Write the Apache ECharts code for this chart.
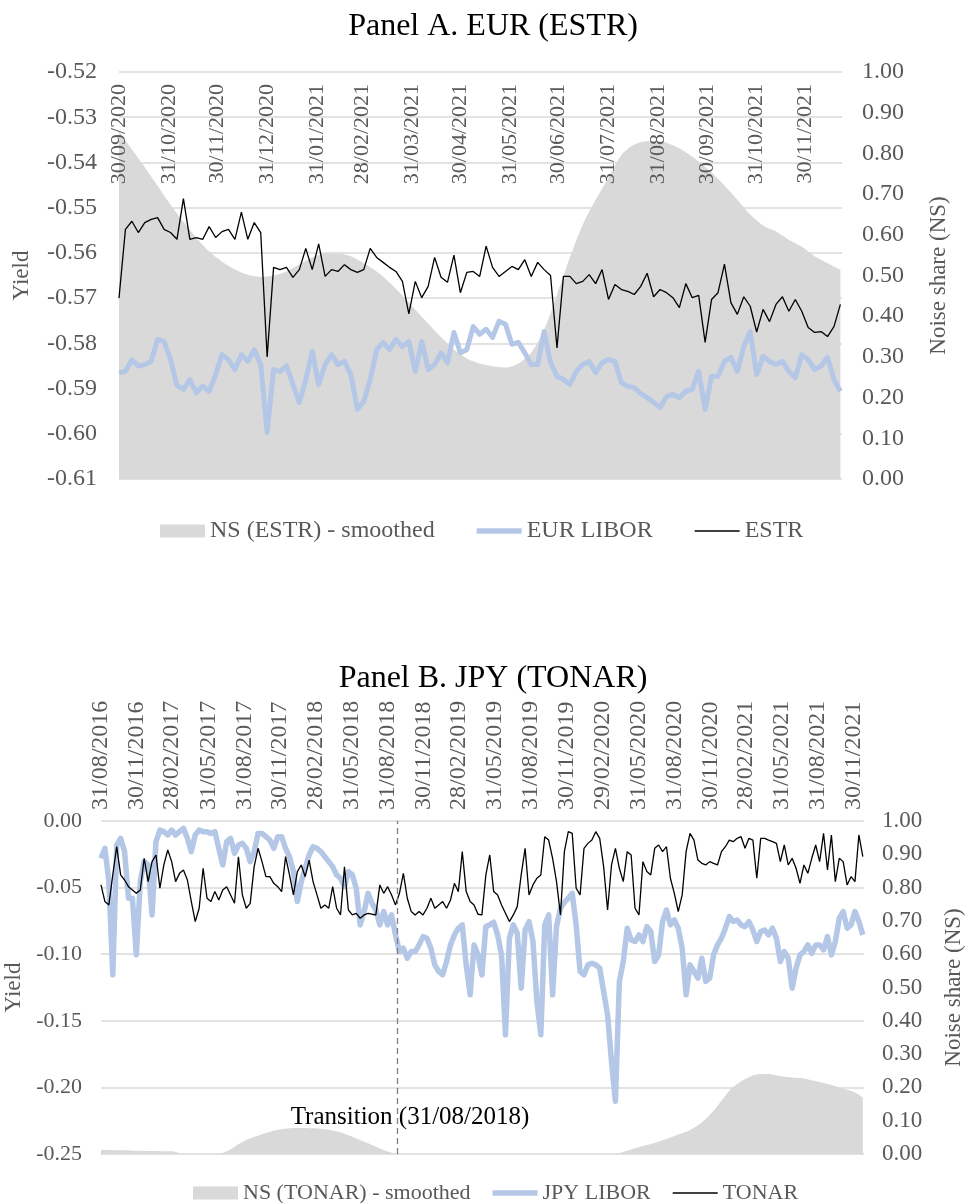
<!DOCTYPE html>
<html><head><meta charset="utf-8">
<script src="https://cdn.jsdelivr.net/npm/echarts@6/dist/echarts.min.js"></script>
<style>html,body{margin:0;padding:0;background:#fff}#c{width:969px;height:1203px}</style>
</head><body><div id="c"></div>
<script>
// ---------- Panel A (EUR / ESTR) ----------
const startA = '2020-09-30';   // lines sampled every 4 days, NS every 8 days
const endA = '2021-12-23';
const ticksA = ['2020-09-30','2020-10-31','2020-11-30','2020-12-31','2021-01-31','2021-02-28','2021-03-31','2021-04-30','2021-05-31','2021-06-30','2021-07-31','2021-08-31','2021-09-30','2021-10-31','2021-11-30'];
const estrA = [
-0.5700,-0.5548,-0.5530,-0.5555,-0.5533,-0.5526,-0.5522,-0.5548,-0.5555,-0.5570,
-0.5480,-0.5570,-0.5566,-0.5570,-0.5542,-0.5566,-0.5553,-0.5548,-0.5570,-0.5510,
-0.5570,-0.5533,-0.5555,-0.5830,-0.5632,-0.5637,-0.5632,-0.5654,-0.5637,-0.5590,
-0.5637,-0.5580,-0.5652,-0.5637,-0.5641,-0.5626,-0.5637,-0.5643,-0.5637,-0.5590,
-0.5610,-0.5621,-0.5632,-0.5641,-0.5663,-0.5735,-0.5663,-0.5699,-0.5674,-0.5610,
-0.5654,-0.5665,-0.5605,-0.5688,-0.5643,-0.5641,-0.5652,-0.5585,-0.5632,-0.5652,
-0.5641,-0.5630,-0.5637,-0.5615,-0.5652,-0.5621,-0.5637,-0.5650,-0.5810,-0.5652,
-0.5652,-0.5668,-0.5663,-0.5648,-0.5668,-0.5637,-0.5703,-0.5670,-0.5681,-0.5685,
-0.5692,-0.5674,-0.5645,-0.5697,-0.5681,-0.5688,-0.5699,-0.5721,-0.5668,-0.5699,
-0.5694,-0.5798,-0.5703,-0.5688,-0.5625,-0.5710,-0.5736,-0.5697,-0.5718,-0.5775,
-0.5725,-0.5752,-0.5714,-0.5697,-0.5729,-0.5703,-0.5729,-0.5765,-0.5776,-0.5774,
-0.5785,-0.5763,-0.5714];
const liborA = [
-0.5865,-0.5862,-0.5836,-0.5850,-0.5847,-0.5840,-0.5791,-0.5796,-0.5836,-0.5893,
-0.5902,-0.5880,-0.5909,-0.5895,-0.5906,-0.5869,-0.5825,-0.5836,-0.5858,-0.5825,
-0.5840,-0.5814,-0.5847,-0.5997,-0.5858,-0.5862,-0.5850,-0.5891,-0.5931,-0.5880,
-0.5818,-0.5891,-0.5847,-0.5825,-0.5847,-0.5840,-0.5869,-0.5946,-0.5929,-0.5880,
-0.5814,-0.5798,-0.5814,-0.5791,-0.5807,-0.5796,-0.5862,-0.5796,-0.5858,-0.5847,
-0.5821,-0.5843,-0.5776,-0.5821,-0.5814,-0.5763,-0.5780,-0.5769,-0.5787,-0.5751,
-0.5758,-0.5802,-0.5798,-0.5821,-0.5847,-0.5847,-0.5774,-0.5843,-0.5873,-0.5880,
-0.5891,-0.5862,-0.5847,-0.5840,-0.5865,-0.5843,-0.5836,-0.5840,-0.5887,-0.5895,
-0.5898,-0.5911,-0.5920,-0.5931,-0.5942,-0.5918,-0.5913,-0.5920,-0.5906,-0.5902,
-0.5862,-0.5946,-0.5873,-0.5873,-0.5840,-0.5831,-0.5862,-0.5807,-0.5774,-0.5869,
-0.5829,-0.5840,-0.5847,-0.5840,-0.5862,-0.5876,-0.5825,-0.5836,-0.5858,-0.5850,
-0.5831,-0.5880,-0.5906];
const nsA = [
0.854,0.810,0.766,0.720,0.674,0.632,0.593,0.559,0.534,0.515,
0.502,0.497,0.500,0.510,0.527,0.544,0.554,0.554,0.547,0.530,
0.510,0.483,0.451,0.416,0.382,0.348,0.318,0.296,0.284,0.277,
0.274,0.284,0.311,0.367,0.453,0.544,0.625,0.686,0.740,0.796,
0.822,0.830,0.830,0.820,0.803,0.780,0.753,0.721,0.686,0.650,
0.623,0.608,0.588,0.571,0.547,0.530,0.514];

// ---------- Panel B (JPY / TONAR) ----------
const startB = '2016-08-31';   // lines sampled every 10 days, NS every 20 days
const endB = '2021-12-26';
const transitionLineDate = '2018-09-24';
const transitionTextAt = ['2018-10-27', -0.2222];
const ticksB = ['2016-08-31','2016-11-30','2017-02-28','2017-05-31','2017-08-31','2017-11-30','2018-02-28','2018-05-31','2018-08-31','2018-11-30','2019-02-28','2019-05-31','2019-08-31','2019-11-30','2020-02-29','2020-05-31','2020-08-31','2020-11-30','2021-02-28','2021-05-31','2021-08-31','2021-11-30'];
const tonarB = [
-0.048,-0.0605,-0.063,-0.0405,-0.0193,-0.0405,-0.0443,-0.0493,-0.0518,-0.0543,
-0.0518,-0.028,-0.0455,-0.0305,-0.0255,-0.0505,-0.033,-0.0218,-0.0305,-0.0455,
-0.0393,-0.0368,-0.0443,-0.0605,-0.0755,-0.0655,-0.0355,-0.058,-0.0605,-0.053,
-0.0593,-0.0518,-0.0493,-0.0555,-0.0618,-0.0268,-0.0555,-0.0655,-0.0618,-0.0343,
-0.0205,-0.0305,-0.0418,-0.0418,-0.0468,-0.0493,-0.053,-0.0268,-0.0405,-0.0555,
-0.038,-0.033,-0.0418,-0.0293,-0.0455,-0.0555,-0.0655,-0.063,-0.0655,-0.0493,
-0.0655,-0.0705,-0.0343,-0.0668,-0.0705,-0.0693,-0.073,-0.0705,-0.0693,-0.07,
-0.0705,-0.048,-0.0543,-0.0493,-0.0555,-0.063,-0.0543,-0.0393,-0.058,-0.068,
-0.0705,-0.068,-0.0705,-0.0655,-0.058,-0.0655,-0.063,-0.0605,-0.0655,-0.0593,
-0.0468,-0.053,-0.023,-0.053,-0.0605,-0.063,-0.07,-0.0705,-0.0405,-0.0255,
-0.053,-0.0555,-0.063,-0.0693,-0.0755,-0.0705,-0.0643,-0.0405,-0.0205,-0.0555,
-0.048,-0.043,-0.0405,-0.0118,-0.0143,-0.028,-0.0455,-0.0705,-0.023,-0.008,
-0.0093,-0.0505,-0.0555,-0.0205,-0.0168,-0.0143,-0.008,-0.013,-0.0343,-0.0668,
-0.033,-0.0205,-0.0355,-0.0455,-0.023,-0.0255,-0.0655,-0.0705,-0.0305,-0.038,
-0.0405,-0.0205,-0.018,-0.023,-0.0193,-0.043,-0.0543,-0.068,-0.0555,-0.023,
-0.0093,-0.0143,-0.0293,-0.0318,-0.033,-0.0305,-0.0318,-0.033,-0.023,-0.0193,
-0.0143,-0.0155,-0.013,-0.0118,-0.0205,-0.013,-0.0143,-0.043,-0.013,-0.013,
-0.0143,-0.0155,-0.0168,-0.0305,-0.018,-0.033,-0.028,-0.0355,-0.0468,-0.033,
-0.0393,-0.028,-0.018,-0.0305,-0.0093,-0.0368,-0.0105,-0.0455,-0.028,-0.0305,
-0.048,-0.0418,-0.0455,-0.0105,-0.0268];
const liborB = [
-0.028,-0.0205,-0.0455,-0.1155,-0.018,-0.013,-0.023,-0.058,-0.058,-0.1005,
-0.0455,-0.0305,-0.033,-0.0705,-0.0155,-0.0068,-0.008,-0.0105,-0.0068,-0.0105,
-0.008,-0.0055,-0.013,-0.023,-0.0105,-0.0068,-0.008,-0.008,-0.0093,-0.008,
-0.0205,-0.033,-0.0155,-0.013,-0.0243,-0.018,-0.0168,-0.0205,-0.0305,-0.023,
-0.0093,-0.0093,-0.0118,-0.0143,-0.0205,-0.0118,-0.0118,-0.0205,-0.0268,-0.038,
-0.0605,-0.0455,-0.0355,-0.0255,-0.0193,-0.0205,-0.023,-0.0268,-0.0305,-0.0343,
-0.0405,-0.043,-0.0493,-0.038,-0.0405,-0.0505,-0.078,-0.068,-0.0543,-0.0618,
-0.0668,-0.078,-0.068,-0.078,-0.0705,-0.0855,-0.098,-0.0955,-0.103,-0.098,
-0.098,-0.093,-0.0868,-0.088,-0.0955,-0.108,-0.113,-0.1155,-0.1055,-0.093,
-0.0855,-0.0805,-0.078,-0.108,-0.1305,-0.093,-0.1005,-0.1155,-0.0793,-0.078,
-0.076,-0.0855,-0.1005,-0.1605,-0.088,-0.078,-0.0843,-0.1255,-0.0818,-0.0755,
-0.0905,-0.1355,-0.1605,-0.078,-0.0705,-0.1305,-0.0793,-0.0655,-0.061,-0.058,
-0.0543,-0.078,-0.113,-0.1155,-0.108,-0.1068,-0.108,-0.1105,-0.128,-0.1455,
-0.1805,-0.2105,-0.1205,-0.1055,-0.0805,-0.0893,-0.0905,-0.0855,-0.0905,-0.0793,
-0.083,-0.1055,-0.1005,-0.0755,-0.0668,-0.078,-0.0743,-0.0805,-0.0955,-0.1305,
-0.108,-0.113,-0.118,-0.103,-0.1205,-0.118,-0.1005,-0.093,-0.088,-0.0805,
-0.0718,-0.0755,-0.0743,-0.078,-0.0793,-0.0755,-0.0818,-0.0905,-0.083,-0.0818,
-0.0855,-0.0805,-0.088,-0.1055,-0.098,-0.103,-0.1255,-0.1105,-0.1005,-0.098,
-0.093,-0.0993,-0.093,-0.093,-0.0968,-0.0868,-0.1005,-0.0905,-0.073,-0.068,
-0.0805,-0.078,-0.068,-0.0755,-0.0855];
const nsB = [
0.012,0.012,0.011,0.011,0.010,0.010,0.009,0.009,0.008,0.008,
0.003,0,0,0,0,0,0.008,0.022,0.036,0.047,
0.055,0.063,0.070,0.074,0.077,0.078,0.078,0.077,0.076,0.073,
0.068,0.061,0.052,0.042,0.032,0.022,0.012,0.004,0,0,
0,0,0,0,0,0,0,0,0,0,
0,0,0,0,0,0,0,0,0,0,
0,0,0,0,0,0,0.003,0.010,0.017,0.024,
0.030,0.037,0.045,0.054,0.062,0.072,0.086,0.105,0.130,0.160,
0.190,0.210,0.225,0.236,0.240,0.240,0.236,0.232,0.230,0.228,
0.224,0.219,0.213,0.207,0.200,0.193,0.185,0.170];

// ---------- helpers ----------
function ts(s){const [y,m,d]=s.split('-').map(Number);return new Date(y,m-1,d).getTime();}
function dayGrid(start, step, n){const [y,m,d]=start.split('-').map(Number);return Array.from({length:n},(_,i)=>new Date(y,m-1,d+i*step).getTime());}
function zip(xs, ys){return ys.map((v,i)=>[xs[i], v]);}
function fmt(v){const d=new Date(v);return String(d.getDate()).padStart(2,'0')+'/'+String(d.getMonth()+1).padStart(2,'0')+'/'+d.getFullYear();}

const lineDatesA = dayGrid(startA, 4, estrA.length);
const nsDatesA = dayGrid(startA, 8, nsA.length);
const lineDatesB = dayGrid(startB, 10, tonarB.length);
const nsDatesB = dayGrid(startB, 20, nsB.length);

const SERIF = 'Liberation Serif';
const GREY = '#595959';
const labelStyle = (size)=>({color:GREY, fontFamily:SERIF, fontSize:size});

const chart = echarts.init(document.getElementById('c'), null, {renderer:'canvas'});
chart.setOption({
  animation:false,
  backgroundColor:'#fff',
  title:[
    {text:'Panel A. EUR (ESTR)', left:488, textAlign:'center', top:6, textStyle:{fontFamily:SERIF, fontSize:32, fontWeight:'normal', color:'#000'}},
    {text:'Panel B. JPY (TONAR)', left:488, textAlign:'center', top:658, textStyle:{fontFamily:SERIF, fontSize:32, fontWeight:'normal', color:'#000'}}
  ],
  legend:[
    {left:155, top:514, itemWidth:45, itemHeight:13, itemGap:42, selectedMode:false,
     textStyle:labelStyle(24),
     data:[{name:'NS (ESTR) - smoothed', icon:'rect'},{name:'EUR LIBOR', icon:'path://M0,0H40V5H0Z'},{name:'ESTR', icon:'path://M0,0H40V1.5H0Z'}]},
    {left:188, top:1177, itemWidth:45, itemHeight:13, itemGap:22, selectedMode:false,
     textStyle:labelStyle(22),
     data:[{name:'NS (TONAR) - smoothed', icon:'rect'},{name:'JPY LIBOR', icon:'path://M0,0H40V5H0Z'},{name:'TONAR', icon:'path://M0,0H40V1.5H0Z'}]}
  ],
  grid:[
    {left:119, top:72, width:723, height:407, outerBoundsMode:'none', containLabel:false},
    {left:101, top:821, width:763, height:333, outerBoundsMode:'none', containLabel:false}
  ],
  xAxis:[
    {gridIndex:0, type:'value', position:'top', min:ts(startA), max:ts(endA), z:10,
     axisLine:{show:false}, axisTick:{show:false}, splitLine:{show:false},
     axisLabel:Object.assign({customValues:ticksA.map(ts), formatter:fmt, rotate:90, inside:true, margin:12, showMinLabel:true, showMaxLabel:true}, labelStyle(22))},
    {gridIndex:1, type:'value', position:'top', min:ts(startB), max:ts(endB), z:10,
     axisLine:{show:false}, axisTick:{show:false}, splitLine:{show:false},
     axisLabel:Object.assign({customValues:ticksB.map(ts), formatter:fmt, rotate:90, margin:11, showMinLabel:true, showMaxLabel:true}, labelStyle(24))}
  ],
  yAxis:[
    {gridIndex:0, type:'value', position:'left', min:-0.61, max:-0.52, interval:0.01,
     axisLine:{show:false}, axisTick:{show:false},
     splitLine:{lineStyle:{color:'#d9d9d9', width:1.5}},
     axisLabel:Object.assign({formatter:v=>v.toFixed(2), margin:22}, labelStyle(24)),
     name:'Yield', nameLocation:'middle', nameRotate:90, nameGap:86, nameTextStyle:labelStyle(23)},
    {gridIndex:0, type:'value', position:'right', min:0, max:1, interval:0.1,
     axisLine:{show:false}, axisTick:{show:false}, splitLine:{show:false},
     axisLabel:Object.assign({formatter:v=>v.toFixed(2), margin:20}, labelStyle(24)),
     name:'Noise share (NS)', nameLocation:'middle', nameRotate:90, nameGap:85, nameTextStyle:labelStyle(23)},
    {gridIndex:1, type:'value', position:'left', min:-0.25, max:0, interval:0.05,
     axisLine:{show:false}, axisTick:{show:false},
     splitLine:{lineStyle:{color:'#d9d9d9', width:1.5}},
     axisLabel:Object.assign({formatter:v=>v.toFixed(2), margin:19}, labelStyle(22)),
     name:'Yield', nameLocation:'middle', nameRotate:90, nameGap:72, nameTextStyle:labelStyle(23)},
    {gridIndex:1, type:'value', position:'right', min:0, max:1, interval:0.1,
     axisLine:{show:false}, axisTick:{show:false}, splitLine:{show:false},
     axisLabel:Object.assign({formatter:v=>v.toFixed(2), margin:18}, labelStyle(23)),
     name:'Noise share (NS)', nameLocation:'middle', nameRotate:90, nameGap:78, nameTextStyle:labelStyle(23)}
  ],
  series:[
    {name:'NS (ESTR) - smoothed', type:'line', xAxisIndex:0, yAxisIndex:1, data:zip(nsDatesA, nsA),
     symbol:'none', smooth:0.3, lineStyle:{width:0}, itemStyle:{color:'#d9d9d9'},
     areaStyle:{color:'#d9d9d9', opacity:1}, z:1},
    {name:'EUR LIBOR', type:'line', xAxisIndex:0, yAxisIndex:0, data:zip(lineDatesA, liborA),
     symbol:'none', itemStyle:{color:'#b4c7e7'}, lineStyle:{color:'#b4c7e7', width:5, join:'round'}, z:2},
    {name:'ESTR', type:'line', xAxisIndex:0, yAxisIndex:0, data:zip(lineDatesA, estrA),
     symbol:'none', itemStyle:{color:'#000'}, lineStyle:{color:'#000', width:1.3}, z:3},

    {name:'NS (TONAR) - smoothed', type:'line', xAxisIndex:1, yAxisIndex:3, data:zip(nsDatesB, nsB),
     symbol:'none', smooth:0.3, lineStyle:{width:0}, itemStyle:{color:'#d9d9d9'},
     areaStyle:{color:'#d9d9d9', opacity:1}, z:1},
    {name:'JPY LIBOR', type:'line', xAxisIndex:1, yAxisIndex:2, data:zip(lineDatesB, liborB),
     symbol:'none', itemStyle:{color:'#b4c7e7'}, lineStyle:{color:'#b4c7e7', width:5.5, join:'round'}, z:2},
    {name:'TONAR', type:'line', xAxisIndex:1, yAxisIndex:2, data:zip(lineDatesB, tonarB),
     symbol:'none', itemStyle:{color:'#000'}, lineStyle:{color:'#000', width:1.3}, z:3,
     markLine:{silent:true, symbol:['none','none'], label:{show:false},
       lineStyle:{type:[6,4], color:'#7f7f7f', width:1.3},
       data:[{xAxis:ts(transitionLineDate)}]},
     markPoint:{silent:true, symbol:'rect', symbolSize:0,
       label:{show:true, position:'inside', formatter:'Transition (31/08/2018)', color:'#000', fontFamily:SERIF, fontSize:25},
       data:[{coord:[ts(transitionTextAt[0]), transitionTextAt[1]]}]}}
  ]
});
</script>
</body></html>
